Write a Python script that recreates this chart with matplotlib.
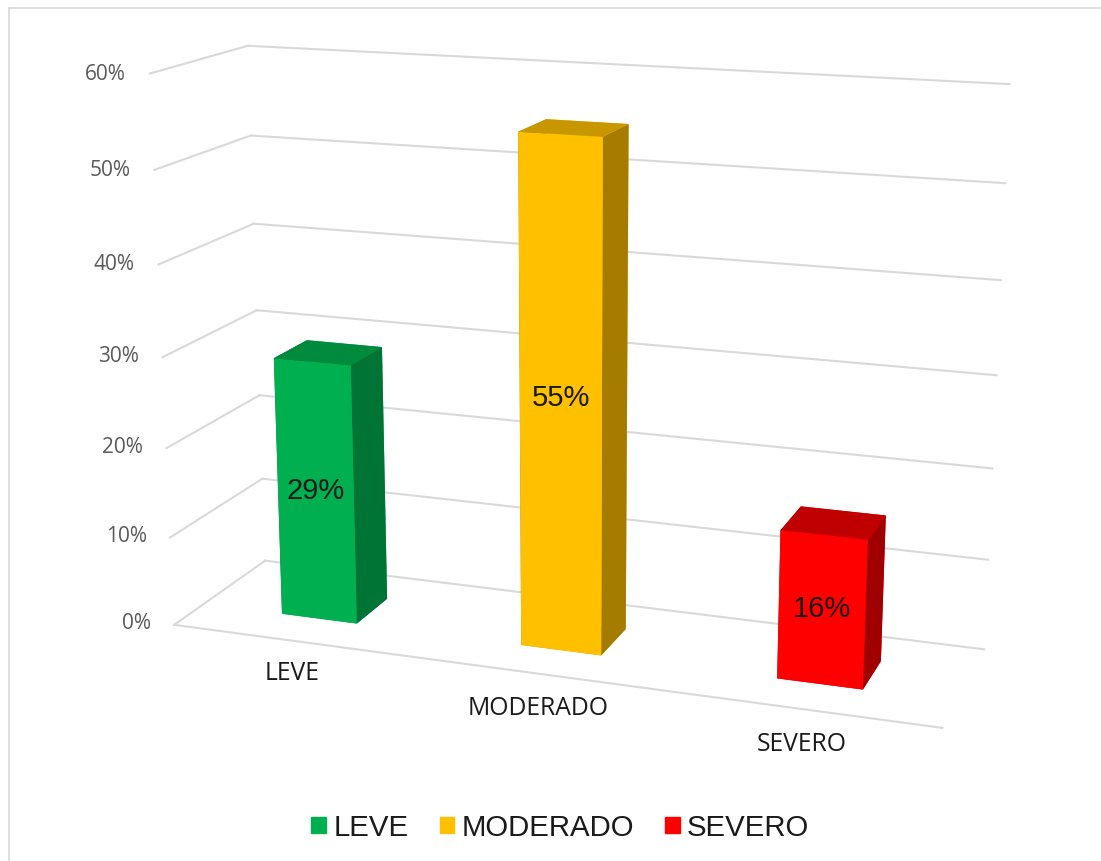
import matplotlib
matplotlib.use("Agg")
import matplotlib.pyplot as plt
from matplotlib.patches import Patch

# values
categories = ["LEVE", "MODERADO", "SEVERO"]
values = [29, 55, 16]
labels = ["29%", "55%", "16%"]
ticks = [0, 10, 20, 30, 40, 50, 60]

front_col = ["#00B050", "#FFC000", "#FF0000"]
top_col = ["#008A3E", "#C89700", "#C00000"]
side_col = ["#007434", "#A67C00", "#A00000"]

W = 3.0
D = 1.0
bar_w = 0.32
bar_d = 0.37

fig = plt.figure(figsize=(11.01, 8.62), dpi=100)
ax = fig.add_axes([0.0107, 0.0606, 1.0, 1.0], projection="3d", computed_zorder=False)
ax.set_proj_type("persp", focal_length=0.54)
ax.view_init(elev=15, azim=-70.5)
ax.set_box_aspect((806, 212, 575), zoom=1.145)
ax.set_axis_off()
ax.set_xlim(0, W)
ax.set_ylim(0, D)
ax.set_zlim(0, 60)
ax.set_xticks([])
ax.set_yticks([])
ax.set_zticks([])

# walls
grid = "#D9D9D9"
for t in ticks:
    ax.plot([0, 0], [0, D], [t, t], color=grid, lw=1.5, zorder=1, clip_on=False)
    ax.plot([0, W], [D, D], [t, t], color=grid, lw=1.5, zorder=1, clip_on=False)
    ax.text(-0.1, 0, t - 0.1, "%d%%" % t, ha="right", va="center", fontsize=15,
            color="#595959", family="Open Sans", zorder=3, clip_on=False)
ax.plot([0, W], [0, 0], [0, 0], color=grid, lw=1.5, zorder=1, clip_on=False)

for i, v in enumerate(values):
    x = i + 0.5 - bar_w / 2
    y = (D - bar_d) / 2
    cols = [top_col[i], top_col[i], front_col[i], front_col[i], side_col[i], side_col[i]]
    bar = ax.bar3d(x, y, 0, bar_w, bar_d, v, color=cols, shade=False, zorder=2 + i * 0.1)
    bar.set_clip_on(False)
    ax.text(i + 0.5, y, v / 2 + 0.2, labels[i], ha="center", va="center", fontsize=21,
            color="#1A1A1A", family="Liberation Sans", zorder=3, clip_on=False)
    ax.text(i + 0.5, 0, -3.7, categories[i], ha="center", va="center", fontsize=17.8,
            color="#1A1A1A", family="Open Sans", zorder=3, clip_on=False)

handles = [Patch(color=c, label=n) for c, n in zip(front_col, categories)]
fig.legend(handles=handles, loc="lower center", ncol=3, frameon=False,
           prop={"family": "Liberation Sans", "size": 21.2}, bbox_to_anchor=(0.509, -0.008),
           handlelength=0.5, handleheight=0.5, handletextpad=0.25, columnspacing=1.05,
           labelcolor="#1A1A1A")

# frame of the chart area
fig.add_artist(plt.Line2D([0.008, 0.008], [0, 0.99], color=grid, lw=1.2))
fig.add_artist(plt.Line2D([0.008, 1.0], [0.99, 0.99], color=grid, lw=1.2))

fig.savefig("out.png", dpi=100)
